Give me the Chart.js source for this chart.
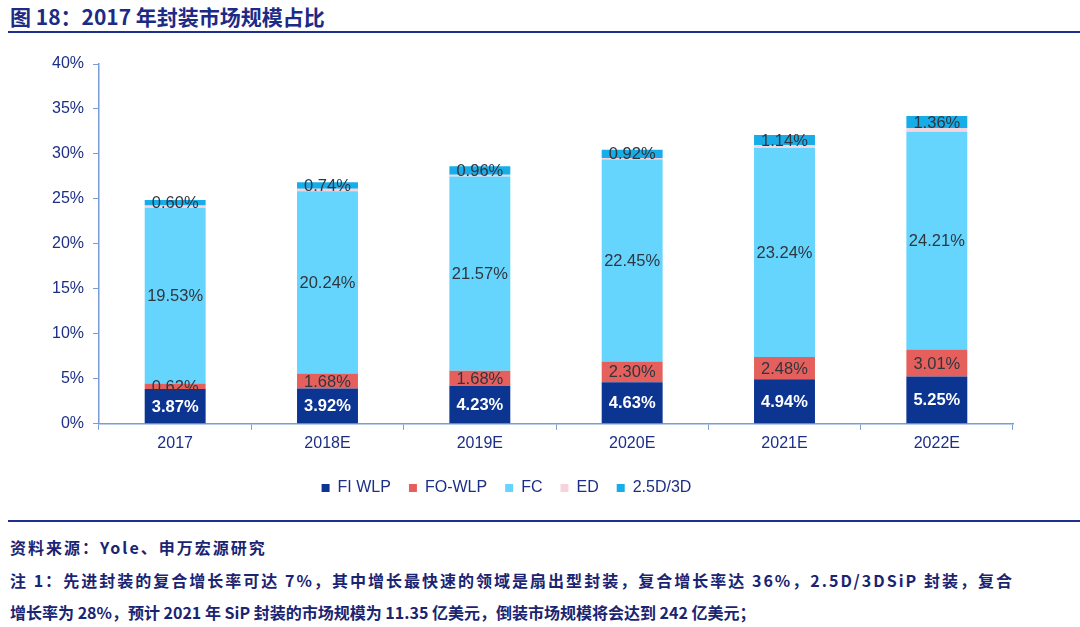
<!DOCTYPE html>
<html>
<head>
<meta charset="utf-8">
<script src="https://cdn.jsdelivr.net/npm/chart.js@4.4.1/dist/chart.umd.min.js"></script>
<style>
  html, body { margin: 0; padding: 0; background: #ffffff; }
  body { width: 1080px; height: 627px; position: relative; overflow: hidden;
         font-family: "Noto Sans CJK SC", "Liberation Sans", sans-serif; }
  #title { position: absolute; left: 10px; top: 2px; font-size: 21px; font-weight: bold;
           color: #1c2b86; line-height: 28px; white-space: nowrap; }
  #topline { position: absolute; left: 8px; right: 0; top: 31px; height: 2px; background: #1f2f8f; }
  #botline { position: absolute; left: 8px; right: 0; top: 520px; height: 2px; background: #1f2f8f; }
  .foot { position: absolute; left: 10px; font-size: 16px; font-weight: bold; color: #1a2472;
          line-height: 22px; white-space: nowrap; }
  #wrap { position: absolute; left: 0; top: 40px; width: 1080px; height: 470px; }
</style>
</head>
<body>
<div id="title">图 18：2017 年封装市场规模占比</div>
<div id="topline"></div>
<div id="wrap"><canvas id="c"></canvas></div>
<div id="botline"></div>
<div class="foot" id="f1" style="top:536px; letter-spacing:2px;">资料来源：Yole、申万宏源研究</div>
<div class="foot" id="f2" style="top:569px;">注 1：先进封装的复合增长率可达 7%，其中增长最快速的领域是扇出型封装，复合增长率达 36%，2.5D/3DSiP 封装，复合</div>
<div class="foot" id="f3" style="top:601px;">增长率为 28%，预计 2021 年 SiP 封装的市场规模为 11.35 亿美元，倒装市场规模将会达到 242 亿美元；</div>
<script>
const categories = ["2017", "2018E", "2019E", "2020E", "2021E", "2022E"];
const seriesNames = ["FI WLP", "FO-WLP", "FC", "ED", "2.5D/3D"];
const fiWlp = [3.87, 3.92, 4.23, 4.63, 4.94, 5.25];
const foWlp = [0.62, 1.68, 1.68, 2.30, 2.48, 3.01];
const fc = [19.53, 20.24, 21.57, 22.45, 23.24, 24.21];
const ed = [0.25, 0.28, 0.20, 0.18, 0.32, 0.40];
const d25 = [0.60, 0.74, 0.96, 0.92, 1.14, 1.36];
const yTicks = [0, 5, 10, 15, 20, 25, 30, 35, 40];

// justify footer line 2 to the reference width
(function () {
  const el = document.getElementById('f2');
  const target = 1002;
  const w = el.getBoundingClientRect().width;
  const n = el.textContent.length;
  if (w < target && n > 1) el.style.letterSpacing = ((target - w) / (n - 1)) + 'px';
})();

const colors = ["#0c3592", "#e5605c", "#66d5fd", "#f7d4dc", "#17ade9"];
const values = [fiWlp, foWlp, fc, ed, d25];
const showLabel = [true, true, true, false, true];

const labelPlugin = {
  id: 'segLabels',
  afterDatasetsDraw(chart) {
    const ctx = chart.ctx;
    ctx.save();
    ctx.textAlign = 'center';
    ctx.textBaseline = 'middle';
    chart.data.datasets.forEach((ds, i) => {
      if (!showLabel[i]) return;
      const meta = chart.getDatasetMeta(i);
      meta.data.forEach((bar, j) => {
        const v = ds.data[j];
        const y = (bar.y + bar.base) / 2;
        if (i === 0) {
          ctx.fillStyle = '#ffffff';
          ctx.font = 'bold 16.5px "Liberation Sans", Arial, sans-serif';
        } else {
          ctx.fillStyle = '#30363f';
          ctx.font = '16.5px "Liberation Sans", Arial, sans-serif';
        }
        ctx.fillText(v.toFixed(2) + '%', bar.x, y + 1);
      });
    });
    ctx.restore();
  }
};

new Chart(document.getElementById('c'), {
  type: 'bar',
  data: {
    labels: categories,
    datasets: seriesNames.map((n, i) => ({
      label: n,
      data: values[i],
      backgroundColor: colors[i],
      borderWidth: 0,
      categoryPercentage: 1.0,
      barPercentage: 0.4
    }))
  },
  options: {
    responsive: true,
    maintainAspectRatio: false,
    animation: false,
    layout: { padding: { left: 0, right: 67, top: 24, bottom: 4 } },
    plugins: {
      legend: {
        position: 'bottom',
        labels: {
          boxWidth: 8, boxHeight: 8, padding: 18,
          color: '#1c2f86',
          font: { size: 16, family: '"Liberation Sans", Arial, sans-serif' }
        }
      },
      tooltip: { enabled: false }
    },
    scales: {
      x: {
        stacked: true,
        afterFit(scale) { scale.height += 5; },
        grid: { offset: true, drawOnChartArea: false, color: '#7b9bd6', tickLength: 6 },
        border: { color: '#7b9bd6', width: 1.5 },
        ticks: { color: '#1c2f86', padding: 4, font: { size: 16, family: '"Liberation Sans", Arial, sans-serif' } }
      },
      y: {
        stacked: true,
        min: 0, max: 40,
        afterFit(scale) { scale.width = 99; },
        afterBuildTicks(scale) { scale.ticks = yTicks.map(v => ({ value: v })); },
        grid: { drawOnChartArea: false, color: '#7b9bd6', tickLength: 6 },
        border: { color: '#7b9bd6', width: 1.5 },
        ticks: {
          color: '#1c2f86', padding: 9,
          font: { size: 16, family: '"Liberation Sans", Arial, sans-serif' },
          callback: v => v + '%'
        }
      }
    }
  },
  plugins: [labelPlugin]
});
</script>
</body>
</html>
